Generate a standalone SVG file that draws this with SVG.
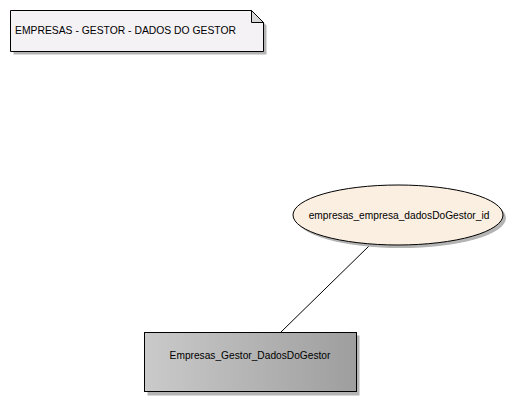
<svg xmlns="http://www.w3.org/2000/svg" width="515" height="402" viewBox="0 0 515 402">
<style>
text{font-family:"Liberation Sans",Arial,sans-serif;font-size:10.2px;fill:#000}
.shadow{fill:#b4b4b4}
.edge{stroke:#000;stroke-width:1;fill:none}
</style>
<defs>
<linearGradient id="g" x1="0" y1="0" x2="1" y2="0">
<stop offset="0" stop-color="#cacaca"/>
<stop offset="1" stop-color="#9e9e9e"/>
</linearGradient>
</defs>
<rect width="515" height="402" fill="#fff"/>
<g id="note">
<path class="shadow" d="M13.5 13.5 H254.5 L266.5 25.5 V54.5 H13.5 Z"/>
<path d="M10.5 10.5 H251.5 L263.5 22.5 V51.5 H10.5 Z" fill="#f5f2f5" stroke="#000"/>
<path d="M251.5 10.5 V22.5 H263.5 Z" fill="#d8d8d8" stroke="#000"/>
<text x="15" y="34" textLength="221" lengthAdjust="spacingAndGlyphs">EMPRESAS - GESTOR - DADOS DO GESTOR</text>
</g>
<g id="connectors">
<line class="edge" x1="369" y1="246" x2="281" y2="332"/>
</g>
<g id="ellipse-node">
<ellipse class="shadow" cx="401" cy="218" rx="105" ry="30"/>
<ellipse cx="398" cy="215" rx="105" ry="30" fill="#fbefe2" stroke="#000"/>
<text x="399" y="219" text-anchor="middle">empresas_empresa_dadosDoGestor_id</text>
</g>
<g id="table-node">
<rect class="shadow" x="147.5" y="335.5" width="212" height="60"/>
<rect x="144.5" y="332.5" width="212" height="59" fill="url(#g)" stroke="#000"/>
<text x="250" y="359" text-anchor="middle">Empresas_Gestor_DadosDoGestor</text>
</g>
</svg>
